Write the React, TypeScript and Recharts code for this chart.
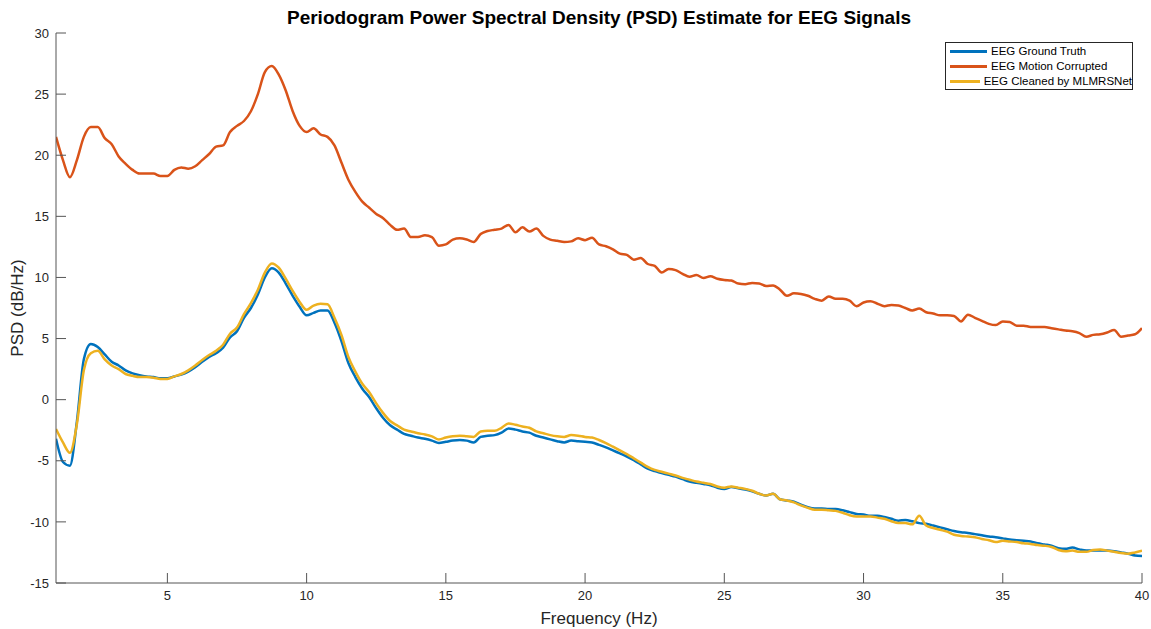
import React from "react";
import { LineChart, Line, XAxis, YAxis } from "recharts";

// periodogram bins: 1 Hz to 40 Hz, 0.25 Hz apart
const FREQ_START = 1;
const FREQ_STEP = 0.25;

const groundTruth = [
  -3.2, -5.1, -5.4, -1.8, 3.3, 4.55, 4.3, 3.7, 3.1, 2.8, 2.4, 2.15, 2.0, 1.9, 1.85, 1.75,
  1.75, 1.9, 2.05, 2.3, 2.65, 3.1, 3.5, 3.8, 4.25, 5.1, 5.6, 6.7, 7.5, 8.6, 10.0, 10.75,
  10.4, 9.5, 8.5, 7.6, 6.9, 7.1, 7.3, 7.3, 6.3, 4.8, 3.0, 1.85, 0.9, 0.2, -0.7, -1.5,
  -2.1, -2.45, -2.8, -2.95, -3.1, -3.2, -3.35, -3.55, -3.45, -3.35, -3.3, -3.35, -3.5, -3.05, -2.95, -2.9,
  -2.7, -2.35, -2.45, -2.6, -2.7, -2.95, -3.1, -3.25, -3.4, -3.5, -3.35, -3.4, -3.45, -3.5, -3.7, -3.9,
  -4.15, -4.4, -4.65, -4.95, -5.3, -5.65, -5.85, -6.0, -6.15, -6.3, -6.5, -6.7, -6.8, -6.9, -7.0, -7.2,
  -7.3, -7.15, -7.25, -7.35, -7.5, -7.7, -7.85, -7.7, -8.15, -8.25, -8.35, -8.6, -8.8, -8.9, -8.9, -8.95,
  -8.95, -9.05, -9.2, -9.35, -9.4, -9.5, -9.5, -9.6, -9.75, -9.9, -9.85, -9.95, -10.1, -10.15, -10.3, -10.45,
  -10.6, -10.75, -10.85, -10.9, -11.0, -11.1, -11.2, -11.25, -11.35, -11.45, -11.5, -11.55, -11.6, -11.75, -11.85, -11.95,
  -12.15, -12.2, -12.1, -12.25, -12.35, -12.35, -12.35, -12.35, -12.4, -12.5, -12.6, -12.75, -12.8,
];

const motionCorrupted = [
  21.5, 19.6, 18.2, 19.6, 21.5, 22.3, 22.3, 21.4, 20.9, 19.9, 19.3, 18.8, 18.5, 18.5, 18.5, 18.3,
  18.3, 18.8, 19.0, 18.9, 19.1, 19.6, 20.1, 20.7, 20.8, 21.9, 22.4, 22.8, 23.6, 25.0, 26.8, 27.3,
  26.6, 25.3, 23.6, 22.4, 21.9, 22.2, 21.7, 21.5, 20.8, 19.4, 18.0, 17.0, 16.2, 15.7, 15.2, 14.85,
  14.3, 13.9, 14.0, 13.3, 13.3, 13.45, 13.3, 12.6, 12.7, 13.1, 13.2, 13.1, 12.9, 13.55, 13.8, 13.9,
  14.0, 14.3, 13.7, 14.1, 13.75, 14.0, 13.4, 13.1, 13.0, 12.9, 12.95, 13.2, 13.05, 13.25, 12.7, 12.55,
  12.3, 11.95, 11.85, 11.45, 11.6, 11.1, 10.95, 10.4, 10.7, 10.6, 10.3, 10.05, 10.2, 9.95, 10.1, 9.9,
  9.8, 9.75, 9.5, 9.45, 9.55, 9.5, 9.3, 9.35, 9.0, 8.5, 8.7, 8.65, 8.5, 8.25, 8.1, 8.45,
  8.25, 8.25, 8.1, 7.65, 7.95, 8.05, 7.85, 7.65, 7.75, 7.7, 7.5, 7.3, 7.45, 7.15, 7.05, 6.9,
  6.9, 6.85, 6.4, 6.95, 6.7, 6.45, 6.2, 6.1, 6.4, 6.35, 6.05, 6.05, 5.95, 5.95, 5.95, 5.85,
  5.75, 5.65, 5.6, 5.45, 5.15, 5.3, 5.35, 5.5, 5.7, 5.15, 5.25, 5.35, 5.85,
];

const cleanedByNet = [
  -2.4, -3.5, -4.35, -2.0, 2.4, 3.8, 4.0, 3.3, 2.8, 2.5, 2.1, 1.95, 1.85, 1.85, 1.8, 1.7,
  1.7, 1.9, 2.1, 2.4, 2.8, 3.25, 3.65, 4.0, 4.5, 5.4, 5.9, 7.0, 7.9, 9.0, 10.4, 11.15,
  10.8, 9.9, 8.9, 8.0, 7.35, 7.7, 7.85, 7.8, 6.7, 5.3, 3.5, 2.3, 1.3, 0.6, -0.3, -1.1,
  -1.75, -2.1, -2.45, -2.6, -2.75, -2.85, -3.0, -3.25, -3.1, -3.0, -2.95, -3.0, -3.05, -2.6, -2.55, -2.55,
  -2.3, -1.95, -2.05, -2.2, -2.3, -2.6, -2.75, -2.9, -3.0, -3.05, -2.9, -2.95, -3.05, -3.1, -3.3, -3.55,
  -3.85, -4.15, -4.45, -4.8, -5.15, -5.5, -5.75, -5.9, -6.05, -6.2, -6.4, -6.55, -6.7, -6.8, -6.9, -7.1,
  -7.2, -7.1, -7.2, -7.3, -7.45, -7.7, -7.85, -7.7, -8.15, -8.25, -8.4, -8.65, -8.85, -9.0, -9.0, -9.05,
  -9.1, -9.25, -9.45, -9.55, -9.55, -9.55, -9.65, -9.75, -9.95, -10.1, -10.1, -10.2, -9.5, -10.3, -10.5, -10.65,
  -10.8, -11.05, -11.15, -11.2, -11.25, -11.4, -11.5, -11.65, -11.55, -11.6, -11.65, -11.75, -11.8, -11.9, -11.95, -12.05,
  -12.3, -12.4, -12.35, -12.45, -12.45, -12.3, -12.25, -12.35, -12.45, -12.55, -12.6, -12.5, -12.35,
];

const xTicks = [5, 10, 15, 20, 25, 30, 35, 40];
const yTicks = [-15, -10, -5, 0, 5, 10, 15, 20, 25, 30];

const seriesNames = ["EEG Ground Truth", "EEG Motion Corrupted", "EEG Cleaned by MLMRSNet"];
const seriesColors = ["#0072BD", "#D95319", "#EDB120"];

const data = groundTruth.map((v, i) => ({
  f: FREQ_START + i * FREQ_STEP,
  truth: v,
  corrupted: motionCorrupted[i],
  cleaned: cleanedByNet[i],
}));

const FONT = "'Liberation Sans', Arial, Helvetica, sans-serif";
const AXIS = "#262626";

function LegendBox() {
  return (
    <div
      style={{
        position: "absolute",
        left: 945,
        top: 42,
        width: 188,
        height: 48,
        boxSizing: "border-box",
        border: "1px solid #262626",
        background: "#fff",
        padding: "1px 0 0 4px",
        fontFamily: FONT,
        fontSize: 11.5,
        color: "#000",
        lineHeight: "15px",
      }}
    >
      {seriesNames.map((name, i) => (
        <div key={name} style={{ display: "flex", alignItems: "center", whiteSpace: "nowrap" }}>
          <span
            style={{
              display: "inline-block",
              width: 37,
              height: 2.5,
              background: seriesColors[i],
              marginRight: 4,
            }}
          />
          {name}
        </div>
      ))}
    </div>
  );
}

export default function App() {
  return (
    <div style={{ position: "absolute", left: 0, top: 0, width: 1151, height: 629, background: "#fff" }}>
      <LineChart
        width={1151}
        height={629}
        data={data}
        margin={{ top: 33, right: 9, bottom: 0, left: 0 }}
      >
        <XAxis
          dataKey="f"
          type="number"
          domain={[1, 40]}
          ticks={xTicks}
          allowDataOverflow
          height={46}
          tickSize={-10}
          tickMargin={18}
          stroke="#555"
          tick={{ fill: AXIS, fontSize: 13, fontFamily: FONT }}
          label={{
            value: "Frequency (Hz)",
            position: "insideBottom",
            offset: 5,
            fill: AXIS,
            fontSize: 17,
            fontFamily: FONT,
          }}
        />
        <YAxis
          type="number"
          domain={[-15, 30]}
          ticks={yTicks}
          allowDataOverflow
          width={56}
          tickSize={-10}
          tickMargin={17}
          stroke="#555"
          tick={{ fill: AXIS, fontSize: 13, fontFamily: FONT }}
          label={{
            value: "PSD (dB/Hz)",
            angle: -90,
            position: "insideLeft",
            offset: 17,
            style: { textAnchor: "middle" },
            fill: AXIS,
            fontSize: 17,
            fontFamily: FONT,
          }}
        />
        <Line
          dataKey="truth"
          name={seriesNames[0]}
          stroke={seriesColors[0]}
          strokeWidth={2.5}
          dot={false}
          type="monotone"
          isAnimationActive={false}
        />
        <Line
          dataKey="corrupted"
          name={seriesNames[1]}
          stroke={seriesColors[1]}
          strokeWidth={2.5}
          dot={false}
          type="monotone"
          isAnimationActive={false}
        />
        <Line
          dataKey="cleaned"
          name={seriesNames[2]}
          stroke={seriesColors[2]}
          strokeWidth={2.5}
          dot={false}
          type="monotone"
          isAnimationActive={false}
        />
      </LineChart>
      <div
        style={{
          position: "absolute",
          left: 56,
          width: 1086,
          top: 7,
          textAlign: "center",
          fontFamily: FONT,
          fontWeight: "bold",
          fontSize: 19,
          color: "#000",
        }}
      >
        Periodogram Power Spectral Density (PSD) Estimate for EEG Signals
      </div>
      <LegendBox />
    </div>
  );
}
